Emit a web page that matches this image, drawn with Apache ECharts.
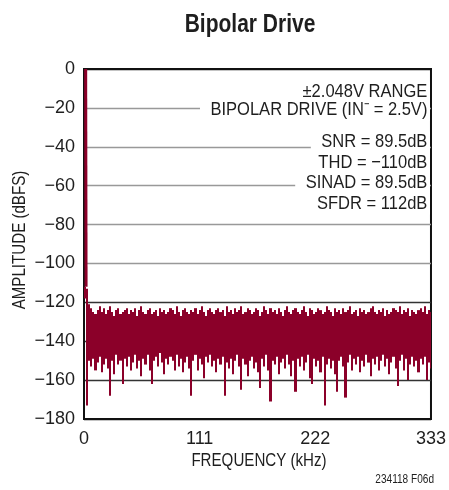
<!DOCTYPE html>
<html>
<head>
<meta charset="utf-8">
<title>Bipolar Drive</title>
<script src="https://cdn.jsdelivr.net/npm/echarts@6/dist/echarts.min.js"></script>
<style>
  html, body { margin: 0; padding: 0; background: #fff; }
  #chart { width: 449px; height: 490px; }
</style>
</head>
<body>
<div id="chart"></div>
<script>
// FFT of the bipolar drive, amplitude in dBFS, 0..333 kHz
var binStep = 2 // kHz covered by each bin

// top of every bin (bins start at f = 0, 2, 4 ... 332)
var binHigh = [
  -112, -113, -121, -123, -125, -126, -124, -122, -125, -123,
  -126, -124, -122, -125, -127, -124, -123, -126, -125, -124,
  -123, -126, -124, -125, -123, -127, -124, -122, -125, -126,
  -124, -123, -126, -125, -124, -127, -123, -125, -124, -126,
  -125, -123, -124, -126, -122, -125, -127, -124, -123, -125,
  -126, -124, -125, -123, -126, -124, -122, -125, -127, -124,
  -123, -125, -126, -124, -123, -125, -124, -127, -122, -125,
  -124, -126, -123, -125, -124, -122, -126, -125, -123, -124,
  -126, -125, -123, -124, -127, -125, -122, -124, -126, -123,
  -125, -124, -126, -123, -125, -127, -124, -122, -125, -126,
  -124, -123, -125, -126, -124, -122, -125, -127, -123, -124,
  -126, -125, -123, -124, -126, -125, -122, -124, -125, -127,
  -123, -125, -124, -126, -123, -125, -124, -122, -126, -125,
  -124, -127, -123, -125, -124, -126, -125, -123, -122, -125,
  -126, -124, -125, -123, -127, -124, -126, -125, -123, -124,
  -125, -122, -126, -124, -125, -123, -127, -124, -125, -126,
  -124, -123, -125, -122, -126, -124, -125
]

// bottom of every bin
var binLow = [
  -118, -173, -150, -153, -149, -155, -151, -148, -156, -152,
  -149, -154, -168, -150, -157, -147, -152, -150, -162, -149,
  -153, -148, -155, -151, -147, -154, -150, -158, -149, -152,
  -147, -155, -162, -150, -148, -153, -146, -151, -157, -149,
  -152, -148, -150, -155, -147, -153, -149, -156, -151, -148,
  -154, -168, -150, -147, -155, -149, -152, -159, -148, -151,
  -147, -153, -150, -156, -149, -152, -148, -168, -151, -154,
  -149, -157, -150, -147, -153, -165, -149, -152, -158, -150,
  -148, -154, -151, -156, -164, -149, -153, -147, -155, -171,
  -150, -152, -148, -157, -151, -149, -154, -147, -152, -158,
  -150, -166, -149, -153, -148, -155, -151, -147, -159, -162,
  -149, -153, -150, -156, -148, -173, -152, -149, -154, -150,
  -157, -166, -150, -148, -153, -169, -151, -147, -155, -149,
  -152, -148, -156, -150, -153, -147, -151, -158, -149, -152,
  -148, -155, -150, -147, -153, -149, -157, -151, -148, -154,
  -163, -150, -147, -155, -149, -160, -152, -148, -153, -150,
  -156, -149, -152, -148, -160, -151, -154
]

// fundamental tone (peak and where its skirt meets the floor)
var toneFreq = [1.6, 2.0]
var toneDb = [0, -112]

var xTicks = [0, 111, 222, 333]
var notes = ['±2.048V RANGE', 'BIPOLAR DRIVE (IN\u207B = 2.5V)', 'SNR = 89.5dB', 'THD = \u2212110dB', 'SINAD = 89.5dB', 'SFDR = 112dB']
var noteY = [92, 110, 142, 163, 183, 204]

var FONT = '"Liberation Sans Narrow", "Liberation Sans", Arial, sans-serif'
var RED = '#8b0029'
var INK = '#1e1e1e'
var NARROW = 0.84 // squeeze the regular face to look like the condensed one

var bins = binHigh.map(function (v, i) { return [i * binStep, v, binLow[i]] })
var tone = toneFreq.map(function (f, i) { return [f, toneDb[i]] })

// one solid column per bin, snapped to whole pixels so neighbours touch
function renderBin (params, api) {
  var top = api.coord([api.value(0), api.value(1)])
  var bottom = api.coord([api.value(0) + binStep, api.value(2)])
  var x0 = Math.round(top[0])
  var x1 = Math.round(bottom[0])
  return {
    type: 'rect',
    shape: { x: x0, y: top[1], width: Math.max(x1 - x0, 1), height: bottom[1] - top[1] },
    style: { fill: RED, stroke: null }
  }
}

function label (text, x, y, size, opts) {
  opts = opts || {}
  return {
    type: 'text',
    z: 100,
    x: x,
    y: y,
    rotation: opts.rotation || 0,
    scaleX: opts.squeeze || NARROW,
    style: {
      text: text,
      font: (opts.weight || 'normal') + ' ' + size + 'px ' + FONT,
      fill: INK,
      align: opts.align || 'center',
      verticalAlign: 'middle',
      backgroundColor: opts.bg,
      padding: opts.bg ? [1, 3, 1, 12] : 0
    }
  }
}

var graphics = [
  label('Bipolar Drive', 250, 25, 25, { weight: 'bold' }),
  label('FREQUENCY (kHz)', 259, 461, 18),
  label('AMPLITUDE (dBFS)', 20, 240, 18, { rotation: Math.PI / 2 }),
  label('234118 F06d', 434, 480, 12, { align: 'right' })
]
notes.forEach(function (t, i) {
  graphics.push(label(t, 430, noteY[i], 19, { align: 'right', bg: '#fff', squeeze: 0.87 }))
})

var myChart = echarts.init(document.getElementById('chart'))
myChart.setOption({
  animation: false,
  backgroundColor: '#fff',
  grid: {
    left: 84, right: 14, top: 69, bottom: 71,
    show: true, borderColor: '#111', borderWidth: 2
  },
  xAxis: {
    type: 'value',
    min: xTicks[0],
    max: xTicks[xTicks.length - 1],
    interval: 111,
    axisLine: { lineStyle: { color: '#111', width: 2 } },
    axisTick: { show: false },
    splitLine: { show: false },
    axisLabel: { fontFamily: FONT, fontSize: 18, color: INK, margin: 11 }
  },
  yAxis: {
    type: 'value',
    min: -180,
    max: 0,
    interval: 20,
    axisLine: { lineStyle: { color: '#111', width: 2 } },
    axisTick: { show: false },
    axisLabel: {
      fontFamily: FONT, fontSize: 18, color: INK, margin: 9,
      formatter: function (v) { return String(v).replace('-', '\u2212') }
    },
    splitLine: {
      show: true,
      showMinLine: true,
      showMaxLine: true,
      // -180 ... 0, the two lines in the noise are darker
      lineStyle: { width: 1.3, color: ['#111', '#333', '#333', '#333', '#999', '#999', '#999', '#999', '#999', '#111'] }
    }
  },
  graphic: graphics,
  series: [{
    name: 'spectrum',
    type: 'custom',
    renderItem: renderBin,
    data: bins,
    clip: true,
    encode: { x: 0, y: [1, 2] },
    z: 3
  }, {
    name: 'tone',
    type: 'line',
    data: tone,
    symbol: 'none',
    lineStyle: { color: RED, width: 3 },
    z: 3
  }]
})
</script>
</body>
</html>
